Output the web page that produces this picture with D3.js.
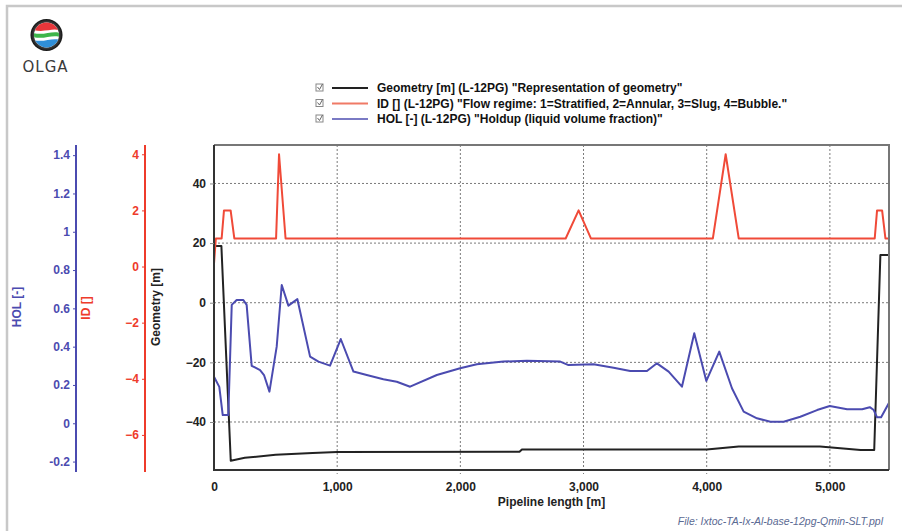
<!DOCTYPE html>
<html><head><meta charset="utf-8">
<script src="https://cdn.jsdelivr.net/npm/d3@7"></script>
<style>
html,body{margin:0;padding:0;background:#fff;}
svg{display:block;font-family:"Liberation Sans",Arial,sans-serif;}
</style></head>
<body>
<svg id="chart" width="902" height="531"></svg>
<script>
// ---- data ----
const xTicks = [0, 1000, 2000, 3000, 4000, 5000];
const geomTicks = [-40, -20, 0, 20, 40];
const idTicks = [-6, -4, -2, 0, 2, 4];
const holTicks = [-0.2, 0, 0.2, 0.4, 0.6, 0.8, 1, 1.2, 1.4];

// Geometry [m] vs pipeline length [m]
const geomX = [0, 60, 136, 250, 500, 800, 1000, 2480, 2500, 4000, 4260, 4920, 5250, 5360, 5410, 5480];
const geomY = [19, 19, -53, -52, -51, -50.4, -50.1, -50, -49.2, -49.2, -48.2, -48.2, -49.4, -49.4, 16, 16];

// ID [] flow regime
const idX = [0, 15, 62, 81, 135, 165, 504, 528, 581, 2855, 2960, 3060, 4050, 4154, 4260, 5364, 5383, 5424, 5451, 5480];
const idY = [0.1, 1, 1, 2, 2, 1, 1, 4, 1, 1, 2, 1, 1, 4, 1, 1, 2, 2, 1, 1];

// HOL [-] holdup
const holX = [0, 43, 71, 116, 144, 184, 238, 265, 306, 374, 406, 450, 509, 550, 604, 677, 780, 848, 942, 1029, 1132, 1240, 1375, 1484, 1592, 1809, 1998, 2134, 2350, 2540, 2811, 2878, 3081, 3244, 3379, 3515, 3596, 3691, 3799, 3899, 3997, 4102, 4205, 4300, 4408, 4517, 4625, 4760, 4896, 4999, 5140, 5262, 5324, 5356, 5383, 5416, 5478];
const holY = [0.243, 0.19, 0.043, 0.043, 0.618, 0.644, 0.644, 0.618, 0.30, 0.278, 0.252, 0.165, 0.40, 0.722, 0.614, 0.648, 0.348, 0.322, 0.301, 0.44, 0.27, 0.252, 0.23, 0.217, 0.191, 0.252, 0.287, 0.308, 0.322, 0.327, 0.322, 0.304, 0.308, 0.29, 0.273, 0.273, 0.313, 0.27, 0.191, 0.47, 0.221, 0.374, 0.183, 0.061, 0.026, 0.008, 0.008, 0.034, 0.069, 0.09, 0.073, 0.073, 0.084, 0.069, 0.031, 0.031, 0.104];

const legendItems = [
  {label: 'Geometry [m] (L-12PG) "Representation of geometry"', color: "#222222"},
  {label: 'ID [] (L-12PG) "Flow regime: 1=Stratified, 2=Annular, 3=Slug, 4=Bubble."', color: "#f07a66"},
  {label: 'HOL [-] (L-12PG) "Holdup (liquid volume fraction)"', color: "#7a7ac4"}
];

// ---- layout ----
const svg = d3.select("#chart");
const L = 214, R = 889, T = 145, B = 470;
const BLUE = "#4b4bb0", RED = "#ee3b2b", BLACK = "#222";
const FONT = "bold 12px 'Liberation Sans', Arial, sans-serif";

const x = d3.scaleLinear().domain([0, 5480]).range([L, R]);
const yGeom = d3.scaleLinear().domain([-56.1, 52.9]).range([B, T]);
const yId = d3.scaleLinear().domain([-7.25, 4.33]).range([B, T]);
const yHol = d3.scaleLinear().domain([-0.244, 1.453]).range([B, T]);

// outer frame
svg.append("path").attr("d", "M7,531 V6 H902").attr("fill", "none")
  .attr("stroke", "#c8c8c8").attr("stroke-width", 2.5);

// logo
const logo = svg.append("g");
const defs = svg.append("defs");
defs.append("clipPath").attr("id", "lc").append("circle").attr("cx", 46.5).attr("cy", 35).attr("r", 12.5);
defs.append("radialGradient").attr("id", "rg").call(g => {
  g.append("stop").attr("offset", "70%").attr("stop-color", "#555");
  g.append("stop").attr("offset", "100%").attr("stop-color", "#111");
});
logo.append("circle").attr("cx", 46.5).attr("cy", 35).attr("r", 16).attr("fill", "url(#rg)");
const lg = logo.append("g").attr("clip-path", "url(#lc)");
lg.append("rect").attr("x", 30).attr("y", 20).attr("width", 34).attr("height", 30).attr("fill", "#fff");
lg.append("path").attr("d", "M33,20 H60 V31 C54,27 46,33 33,30 Z").attr("fill", "#e8363a");
lg.append("path").attr("d", "M33,33 C44,36 52,30 60,33 V37 C52,34 44,40 33,37 Z").attr("fill", "#3db54a");
lg.append("path").attr("d", "M33,40 C44,43 52,37 60,40 V50 H33 Z").attr("fill", "#2f8fd8");
logo.append("text").attr("x", 45.5).attr("y", 72).attr("text-anchor", "middle")
  .style("font", "15px 'DejaVu Sans', sans-serif").attr("fill", "#3a3a3a").attr("letter-spacing", 1)
  .text("OLGA");

// legend
const lgd = svg.append("g");
legendItems.forEach((d, i) => {
  const cy = 88 + i * 15.5;
  const g = lgd.append("g");
  g.append("rect").attr("x", 316).attr("y", cy - 4).attr("width", 7).attr("height", 7)
    .attr("fill", "#fff").attr("stroke", "#888").attr("stroke-width", 1);
  g.append("path").attr("d", `M317.5,${cy - 1} L319.5,${cy + 1.5} L322.5,${cy - 4}`)
    .attr("fill", "none").attr("stroke", "#666").attr("stroke-width", 1);
  g.append("line").attr("x1", 332).attr("x2", 368).attr("y1", cy).attr("y2", cy)
    .attr("stroke", d.color).attr("stroke-width", 2);
  g.append("text").attr("x", 377).attr("y", cy + 4).style("font", FONT).attr("fill", "#111").text(d.label);
});

// grid
const grid = svg.append("g").attr("stroke", "#7a7a7a").attr("stroke-width", 1).attr("stroke-dasharray", "2,2");
xTicks.filter(d => d > 0).forEach(d => {
  grid.append("line").attr("x1", x(d)).attr("x2", x(d)).attr("y1", T).attr("y2", B + 4);
});
geomTicks.forEach(d => {
  grid.append("line").attr("x1", L).attr("x2", R).attr("y1", yGeom(d)).attr("y2", yGeom(d));
});

// series
const clip = defs.append("clipPath").attr("id", "pc");
clip.append("rect").attr("x", L).attr("y", T).attr("width", R - L).attr("height", B - T);
const plot = svg.append("g").attr("clip-path", "url(#pc)");
const mk = (xs, ys) => xs.map((v, i) => [v, ys[i]]);
plot.append("path").datum(mk(geomX, geomY))
  .attr("d", d3.line().x(d => x(d[0])).y(d => yGeom(d[1])))
  .attr("fill", "none").attr("stroke", BLACK).attr("stroke-width", 2).attr("stroke-linejoin", "round");
plot.append("path").datum(mk(idX, idY))
  .attr("d", d3.line().x(d => x(d[0])).y(d => yId(d[1])))
  .attr("fill", "none").attr("stroke", "#f04a38").attr("stroke-width", 2).attr("stroke-linejoin", "round");
plot.append("path").datum(mk(holX, holY))
  .attr("d", d3.line().x(d => x(d[0])).y(d => yHol(d[1])))
  .attr("fill", "none").attr("stroke", BLUE).attr("stroke-width", 2).attr("stroke-linejoin", "round");

// plot frame
svg.append("path").attr("d", `M${L},${T} H${R} V${B}`).attr("fill", "none").attr("stroke", "#777").attr("stroke-width", 2);
svg.append("path").attr("d", `M${L},${T} V${B} H${R}`).attr("fill", "none").attr("stroke", "#333").attr("stroke-width", 2);

// axes
function styleAxis(g, color) {
  g.selectAll("path.domain").attr("stroke", color).attr("stroke-width", 2);
  g.selectAll(".tick line").attr("stroke", color);
  g.selectAll(".tick text").style("font", FONT).attr("fill", color);
}
const fmt1 = d => String(+d.toFixed(1));

const xAxis = svg.append("g").attr("transform", `translate(0,${B})`)
  .call(d3.axisBottom(x).tickValues(xTicks).tickFormat(d3.format(",")).tickSize(0).tickPadding(12));
xAxis.select("path.domain").remove();
styleAxis(xAxis, "#222");

const gAxis = svg.append("g").attr("transform", `translate(${L},0)`)
  .call(d3.axisLeft(yGeom).tickValues(geomTicks).tickSize(4).tickPadding(4));
gAxis.select("path.domain").remove();
styleAxis(gAxis, "#222");
gAxis.selectAll(".tick line").attr("stroke", "#888");

const iAxis = svg.append("g").attr("transform", `translate(145,0)`)
  .call(d3.axisLeft(yId).tickValues(idTicks).tickSize(3).tickSizeOuter(0).tickPadding(3));
styleAxis(iAxis, RED);
iAxis.select("path.domain").attr("d", `M0,${T} V${B + 2}`);

const hAxis = svg.append("g").attr("transform", `translate(76,0)`)
  .call(d3.axisLeft(yHol).tickValues(holTicks).tickFormat(fmt1).tickSize(3).tickSizeOuter(0).tickPadding(3));
styleAxis(hAxis, BLUE);
hAxis.select("path.domain").attr("d", `M0,${T} V${B + 2}`);

// axis titles
const title = (tx, ty, txt, color) => svg.append("text")
  .attr("transform", `translate(${tx},${ty}) rotate(-90)`).attr("text-anchor", "middle")
  .style("font", FONT).attr("fill", color).text(txt);
title(20.5, 307, "HOL [-]", BLUE);
title(90, 308, "ID []", RED);
title(159.5, 307, "Geometry [m]", "#222");

svg.append("text").attr("x", (L + R) / 2).attr("y", 506).attr("text-anchor", "middle")
  .style("font", FONT).attr("fill", "#222").text("Pipeline length [m]");

svg.append("text").attr("x", 883).attr("y", 525).attr("text-anchor", "end")
  .style("font", "italic 10.5px 'Liberation Sans', Arial, sans-serif").attr("fill", "#5b6a93")
  .text("File: Ixtoc-TA-Ix-Al-base-12pg-Qmin-SLT.ppl");
</script>
</body></html>
